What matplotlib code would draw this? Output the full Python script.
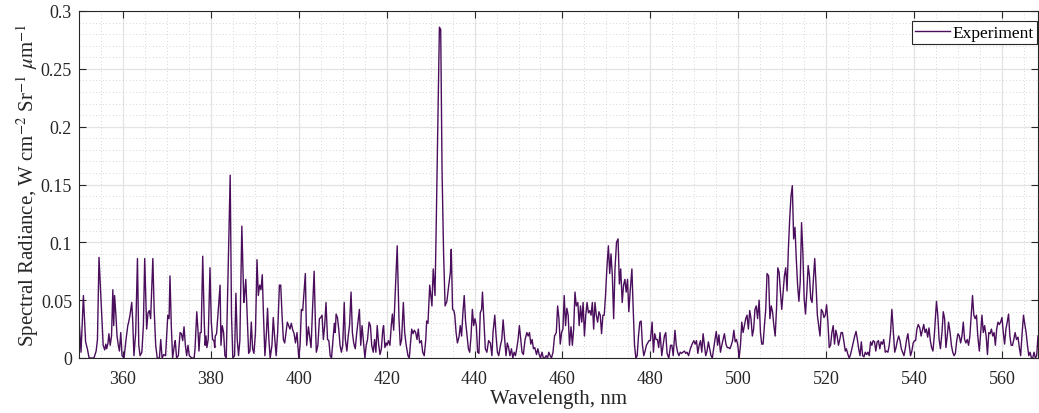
import numpy as np
import matplotlib
matplotlib.use("Agg")
import matplotlib.pyplot as plt
from matplotlib.ticker import MultipleLocator, FuncFormatter

plt.rcParams['font.family'] = ['Liberation Serif', 'DejaVu Serif']
plt.rcParams['mathtext.fontset'] = 'stix'

# Spectrum, split by wavelength range (nm, W cm-2 Sr-1 um-1)
wl_350 = [350.0, 350.46, 351.0, 351.5, 351.9, 352.3, 353.4, 353.9, 354.2, 354.55, 355.1, 355.5,
          355.85, 356.1, 356.3, 356.6, 356.8, 357.1, 357.4, 357.7, 357.9, 358.1, 358.4, 358.65,
          358.95, 359.2, 359.5, 359.8, 360.25, 360.7, 361.1, 361.3, 361.6, 362.0, 362.2, 362.5,
          362.9, 363.3, 363.6, 363.9, 364.3, 364.65, 364.95, 365.4, 365.7, 366.0, 366.3, 366.8,
          367.1, 367.45, 367.8, 368.3, 368.6, 368.9, 369.3, 369.7, 370.2, 370.5, 370.7, 371.0,
          371.3, 371.7, 371.9, 372.2, 372.6, 373.0, 373.3, 373.6, 373.9, 374.2, 374.5, 374.8,
          375.1, 375.65]
rad_350 = [0.034, 0.005, 0.054, 0.014, 0.008, 0.0, 0.0, 0.006, 0.016, 0.087, 0.042, 0.011,
           0.007, 0.012, 0.008, 0.013, 0.021, 0.011, 0.019, 0.059, 0.028, 0.054, 0.037, 0.019,
           0.011, 0.006, 0.022, 0.002, 0.0, 0.016, 0.028, 0.031, 0.037, 0.048, 0.034, 0.002,
           0.022, 0.086, 0.011, 0.002, 0.005, 0.028, 0.086, 0.025, 0.039, 0.041, 0.034, 0.086,
           0.042, 0.011, 0.0, 0.0, 0.016, 0.0, 0.003, 0.002, 0.037, 0.034, 0.071, 0.028,
           0.0, 0.011, 0.015, 0.0, 0.002, 0.022, 0.021, 0.015, 0.027, 0.011, 0.002, 0.011,
           0.002, 0.0]

wl_376 = [376.2, 376.4, 376.8, 377.1, 377.3, 377.55, 377.8, 378.15, 378.5, 378.7, 378.9, 379.1,
          379.4, 379.8, 380.1, 380.4, 380.7, 380.9, 381.0, 381.3, 382.1, 382.3, 382.6, 382.9,
          383.2, 383.5, 384.4, 384.7, 385.0, 385.4, 385.7, 386.0, 386.3, 386.6, 387.05, 387.5,
          387.6, 387.95, 388.3, 388.6, 388.9, 389.2, 389.5, 389.8, 390.15, 390.5, 390.8, 391.1,
          391.4, 391.7, 392.0, 392.3, 392.65, 392.9, 393.2, 393.5, 393.9, 394.2, 394.5, 394.85,
          395.2, 395.6, 395.9, 396.2, 396.5, 396.8, 397.1, 397.4, 397.7, 398.0, 398.3, 398.65,
          398.95, 399.25, 399.6, 400.0, 400.3, 400.6, 400.9, 401.5, 401.8, 402.2]
rad_376 = [0.0, 0.008, 0.040, 0.022, 0.006, 0.022, 0.022, 0.088, 0.031, 0.011, 0.019, 0.009,
           0.016, 0.078, 0.031, 0.016, 0.015, 0.009, 0.019, 0.021, 0.063, 0.011, 0.028, 0.022,
           0.002, 0.0, 0.158, 0.037, 0.0, 0.002, 0.056, 0.016, 0.002, 0.015, 0.114, 0.048,
           0.051, 0.068, 0.034, 0.004, 0.006, 0.031, 0.008, 0.004, 0.022, 0.085, 0.054, 0.063,
           0.059, 0.072, 0.034, 0.002, 0.022, 0.043, 0.016, 0.0, 0.011, 0.035, 0.019, 0.002,
           0.022, 0.063, 0.063, 0.037, 0.016, 0.013, 0.022, 0.031, 0.028, 0.025, 0.030, 0.024,
           0.021, 0.013, 0.022, 0.0, 0.011, 0.042, 0.041, 0.073, 0.011, 0.027]

wl_403 = [402.8, 403.1, 403.5, 403.8, 404.0, 404.35, 404.7, 405.0, 405.3, 405.6, 405.9, 406.2,
          406.55, 406.85, 407.15, 407.45, 407.8, 408.1, 408.3, 408.5, 408.8, 409.1, 409.4, 409.7,
          410.0, 410.35, 410.6, 410.95, 411.25, 411.55, 411.9, 412.2, 412.5, 412.85, 413.2, 413.8,
          414.1, 414.4, 414.75, 415.05, 415.35, 415.65, 416.0, 416.3, 416.6, 416.95, 417.25, 417.55,
          417.85, 418.2, 418.5, 418.8, 419.1, 419.3, 419.6, 419.9, 420.1, 420.4, 420.75, 421.05,
          421.3, 421.6, 422.4, 422.8, 423.1, 423.4, 423.8, 424.1, 424.45, 424.85, 425.15, 425.4,
          425.7, 426.0, 426.3, 426.6, 426.9, 427.2, 427.5, 427.9, 428.2, 428.55, 428.9, 429.1,
          429.4, 429.8]
rad_403 = [0.009, 0.039, 0.075, 0.028, 0.005, 0.011, 0.034, 0.035, 0.037, 0.016, 0.028, 0.048,
           0.016, 0.015, 0.002, 0.0, 0.016, 0.030, 0.022, 0.038, 0.035, 0.025, 0.011, 0.005,
           0.011, 0.048, 0.016, 0.006, 0.019, 0.028, 0.057, 0.022, 0.013, 0.008, 0.022, 0.042,
           0.011, 0.028, 0.013, 0.0, 0.011, 0.016, 0.031, 0.028, 0.011, 0.005, 0.016, 0.005,
           0.028, 0.011, 0.003, 0.008, 0.024, 0.028, 0.009, 0.013, 0.011, 0.015, 0.011, 0.028,
           0.038, 0.024, 0.097, 0.034, 0.011, 0.016, 0.048, 0.022, 0.011, 0.002, 0.0, 0.011,
           0.025, 0.021, 0.024, 0.022, 0.016, 0.025, 0.013, 0.015, 0.005, 0.002, 0.016, 0.032,
           0.030, 0.063]

wl_430 = [430.3, 430.6, 431.0, 431.3, 431.6, 432.0, 432.3, 432.6, 432.95, 433.3, 433.7, 434.1,
          434.5, 434.7, 435.0, 435.3, 435.5, 435.8, 436.1, 436.45, 436.75, 437.05, 437.35, 437.65,
          437.95, 438.3, 438.6, 438.9, 439.2, 439.5, 439.8, 440.1, 440.4, 440.7, 441.0, 441.3,
          441.6, 441.8, 442.1, 442.45, 442.8, 443.2, 443.6, 443.95, 444.2, 444.6, 444.9, 445.2,
          445.5, 445.9, 446.2, 446.5, 446.85, 447.15, 447.45, 447.75, 448.05, 448.4, 448.7, 449.0,
          449.3, 449.6, 449.9, 450.2, 450.5, 450.8, 451.1, 451.5, 451.9, 452.2, 452.5, 452.8,
          453.1, 453.4, 453.7, 454.1, 454.4, 454.7, 455.0, 455.35, 455.65, 455.95, 456.3, 456.6,
          456.9, 457.2, 457.5, 457.85, 458.2]
rad_430 = [0.045, 0.077, 0.054, 0.120, 0.192, 0.286, 0.284, 0.163, 0.091, 0.045, 0.049, 0.062,
           0.074, 0.094, 0.042, 0.041, 0.037, 0.022, 0.013, 0.018, 0.028, 0.019, 0.039, 0.054,
           0.032, 0.019, 0.008, 0.005, 0.019, 0.042, 0.028, 0.034, 0.028, 0.005, 0.004, 0.039,
           0.042, 0.057, 0.034, 0.008, 0.005, 0.015, 0.013, 0.002, 0.022, 0.037, 0.019, 0.005,
           0.002, 0.011, 0.016, 0.033, 0.016, 0.002, 0.013, 0.009, 0.002, 0.008, 0.0, 0.005,
           0.002, 0.008, 0.016, 0.028, 0.016, 0.005, 0.003, 0.016, 0.022, 0.019, 0.022, 0.012,
           0.016, 0.008, 0.009, 0.003, 0.008, 0.003, 0.0, 0.005, 0.0, 0.0, 0.002, 0.0,
           0.005, 0.002, 0.0, 0.005, 0.019]

wl_458 = [458.6, 458.9, 459.2, 459.5, 459.8, 460.1, 460.4, 460.7, 461.0, 461.3, 461.6, 461.95,
          462.25, 462.55, 462.85, 463.15, 463.5, 463.8, 464.1, 464.4, 464.7, 465.0, 465.3, 465.6,
          465.9, 466.2, 466.5, 466.8, 467.1, 467.4, 467.7, 468.0, 468.3, 468.6, 468.9, 469.2,
          469.5, 469.8, 470.1, 470.45, 470.75, 471.05, 471.35, 471.65, 471.95, 472.3, 472.65, 472.95,
          473.25, 473.6, 473.9, 474.2, 474.5, 474.8, 475.1, 475.4, 475.8, 476.1, 476.4, 476.7,
          477.0, 477.3, 477.6, 477.9, 478.2, 478.5, 478.8, 479.1, 479.4, 479.7, 480.0, 480.4,
          480.7, 481.0, 481.3, 481.6, 481.9, 482.2, 482.6, 482.9, 483.2, 483.5, 483.8, 484.2,
          484.6, 484.9, 485.2]
rad_458 = [0.022, 0.045, 0.034, 0.012, 0.022, 0.025, 0.054, 0.028, 0.043, 0.037, 0.011, 0.027,
           0.011, 0.025, 0.057, 0.045, 0.048, 0.028, 0.045, 0.031, 0.048, 0.019, 0.037, 0.048,
           0.039, 0.041, 0.037, 0.048, 0.025, 0.048, 0.037, 0.031, 0.040, 0.037, 0.021, 0.037,
           0.037, 0.054, 0.077, 0.097, 0.073, 0.090, 0.071, 0.034, 0.077, 0.100, 0.103, 0.064,
           0.077, 0.048, 0.063, 0.068, 0.057, 0.068, 0.040, 0.057, 0.077, 0.042, 0.011, 0.0,
           0.002, 0.019, 0.031, 0.032, 0.011, 0.002, 0.006, 0.011, 0.013, 0.015, 0.015, 0.031,
           0.005, 0.021, 0.016, 0.016, 0.009, 0.022, 0.002, 0.011, 0.019, 0.022, 0.004, 0.0,
           0.011, 0.011, 0.002]

wl_485 = [485.6, 485.9, 486.2, 486.5, 486.8, 487.1, 487.4, 487.75, 488.05, 488.35, 488.7, 489.1,
          489.5, 489.9, 490.2, 490.5, 490.8, 491.1, 491.4, 491.7, 492.0, 492.3, 492.6, 492.9,
          493.2, 493.5, 493.8, 494.1, 494.4, 494.7, 495.0, 495.3, 495.6, 495.95, 496.25, 496.55,
          496.85, 497.2, 497.5, 497.8, 498.1, 498.4, 498.7, 499.0, 499.3, 499.6, 499.9, 500.2,
          500.5, 500.8, 501.1, 501.4, 501.7, 502.0, 502.3, 502.6, 502.9, 503.2, 503.5, 503.8,
          504.1, 504.4, 504.75, 505.05, 505.35, 505.65, 505.95, 506.25, 506.55, 506.9, 507.2, 507.5,
          507.8, 508.1, 508.4, 508.7, 509.0, 509.3, 509.6, 509.9, 510.2, 510.5, 510.8, 511.1,
          511.4, 511.7, 512.0, 512.3]
rad_485 = [0.024, 0.011, 0.005, 0.002, 0.005, 0.004, 0.005, 0.006, 0.004, 0.005, 0.002, 0.008,
           0.012, 0.015, 0.012, 0.015, 0.004, 0.011, 0.015, 0.005, 0.021, 0.011, 0.002, 0.006,
           0.014, 0.008, 0.002, 0.0, 0.008, 0.016, 0.023, 0.011, 0.020, 0.005, 0.011, 0.016,
           0.021, 0.012, 0.009, 0.009, 0.008, 0.011, 0.015, 0.024, 0.014, 0.016, 0.011, 0.0,
           0.011, 0.031, 0.022, 0.028, 0.034, 0.037, 0.025, 0.041, 0.034, 0.019, 0.025, 0.042,
           0.045, 0.034, 0.050, 0.022, 0.012, 0.012, 0.028, 0.042, 0.073, 0.071, 0.034, 0.045,
           0.040, 0.028, 0.019, 0.042, 0.078, 0.074, 0.057, 0.042, 0.057, 0.071, 0.078, 0.058,
           0.094, 0.120, 0.140, 0.149]

wl_512 = [512.6, 512.9, 513.2, 513.5, 513.8, 514.1, 514.4, 514.7, 515.0, 515.3, 515.6, 515.9,
          516.2, 516.5, 516.8, 517.1, 517.4, 517.7, 518.0, 518.3, 518.6, 518.9, 519.2, 519.5,
          519.8, 520.1, 520.4, 520.7, 521.0, 521.3, 521.6, 521.9, 522.2, 522.5, 522.8, 523.1,
          523.4, 523.7, 524.0, 524.35, 524.6, 524.95, 525.25, 525.55, 525.85, 526.2, 526.5, 526.8,
          527.1, 527.4, 527.7, 528.0, 528.3, 528.6, 528.9, 529.2, 529.5, 529.8, 530.1, 530.4,
          530.7, 531.0, 531.3, 531.6, 531.9, 532.2, 532.5, 532.8, 533.1, 533.45, 533.75, 534.05,
          534.35, 534.65, 534.95, 535.3, 535.6, 535.9, 536.2, 536.5, 536.8, 537.1, 537.4, 537.7,
          538.0, 538.3, 538.6, 538.9, 539.2, 539.5, 539.8, 540.1]
rad_512 = [0.103, 0.113, 0.086, 0.063, 0.049, 0.066, 0.117, 0.091, 0.051, 0.038, 0.057, 0.080,
           0.071, 0.051, 0.048, 0.068, 0.086, 0.063, 0.037, 0.028, 0.019, 0.042, 0.040, 0.035,
           0.037, 0.046, 0.031, 0.009, 0.011, 0.022, 0.028, 0.012, 0.024, 0.019, 0.011, 0.016,
           0.022, 0.022, 0.015, 0.006, 0.008, 0.003, 0.0, 0.003, 0.008, 0.014, 0.019, 0.023,
           0.016, 0.008, 0.002, 0.014, 0.002, 0.001, 0.005, 0.003, 0.005, 0.002, 0.014, 0.011,
           0.015, 0.014, 0.006, 0.014, 0.015, 0.008, 0.014, 0.012, 0.016, 0.005, 0.006, 0.005,
           0.011, 0.022, 0.042, 0.022, 0.005, 0.009, 0.015, 0.019, 0.015, 0.008, 0.005, 0.002,
           0.008, 0.016, 0.021, 0.011, 0.002, 0.006, 0.013, 0.015]

wl_540 = [540.35, 540.65, 540.95, 541.3, 541.6, 541.9, 542.2, 542.5, 542.8, 543.1, 543.4, 543.7,
          544.0, 544.3, 544.6, 544.9, 545.1, 545.4, 545.7, 546.0, 546.35, 546.65, 546.95, 547.25,
          547.55, 547.85, 548.2, 548.5, 548.8, 549.1, 549.4, 549.7, 550.0, 550.3, 550.6, 550.9,
          551.2, 551.5, 551.8, 552.1, 552.4, 552.7, 553.0, 553.3, 553.6, 553.9, 554.2, 554.5,
          554.85, 555.15, 555.45, 555.75, 556.05, 556.4, 556.7, 557.0, 557.3, 557.6, 557.9, 558.2,
          558.5, 558.8, 559.1, 559.4, 559.7, 560.0, 560.3, 560.6, 560.9, 561.2, 561.5, 561.8,
          562.1, 562.4, 562.7, 563.0, 563.3, 563.65, 563.95, 564.25, 564.6, 564.9, 565.2, 565.5,
          565.8, 566.1, 566.4, 566.7, 567.0, 567.3, 567.6, 567.9, 568.2]
rad_540 = [0.015, 0.025, 0.029, 0.026, 0.019, 0.024, 0.029, 0.022, 0.025, 0.018, 0.026, 0.015,
           0.009, 0.006, 0.019, 0.037, 0.049, 0.037, 0.016, 0.008, 0.022, 0.040, 0.034, 0.009,
           0.019, 0.031, 0.022, 0.011, 0.005, 0.002, 0.004, 0.015, 0.021, 0.019, 0.013, 0.019,
           0.031, 0.016, 0.013, 0.016, 0.011, 0.019, 0.037, 0.054, 0.037, 0.034, 0.037, 0.019,
           0.006, 0.022, 0.037, 0.022, 0.028, 0.019, 0.003, 0.022, 0.021, 0.025, 0.019, 0.022,
           0.011, 0.025, 0.031, 0.029, 0.031, 0.035, 0.022, 0.012, 0.025, 0.031, 0.038, 0.019,
           0.011, 0.011, 0.016, 0.022, 0.016, 0.018, 0.009, 0.002, 0.022, 0.037, 0.029, 0.022,
           0.011, 0.002, 0.005, 0.0, 0.0, 0.005, 0.0, 0.002, 0.019]

wavelength = np.concatenate([wl_350, wl_376, wl_403, wl_430, wl_458, wl_485, wl_512, wl_540])
radiance = np.concatenate([rad_350, rad_376, rad_403, rad_430, rad_458, rad_485, rad_512, rad_540])

fig = plt.figure(figsize=(10.39, 4.14), dpi=100)
ax = fig.add_axes([79 / 1039, 1 - 359 / 414, 959 / 1039, 347 / 414])

ax.plot(wavelength, radiance, color='#4a0e5c', linewidth=1.0, label='Experiment')

ax.set_xlim(350, 568.2)
ax.set_ylim(0, 0.3)
ax.xaxis.set_major_locator(MultipleLocator(20))
ax.xaxis.set_minor_locator(MultipleLocator(5))
ax.yaxis.set_major_locator(MultipleLocator(0.05))
ax.yaxis.set_minor_locator(MultipleLocator(0.01))
ax.yaxis.set_major_formatter(FuncFormatter(lambda v, p: f"{v:g}"))

ax.grid(which='major', color='#e3e3e3', linewidth=0.9, linestyle='-')
ax.grid(which='minor', color='#c8c8c8', linewidth=0.6, linestyle=(0, (1, 3)))
ax.set_axisbelow(True)

ax.tick_params(which='both', direction='in', top=True, right=True, colors='#262626',
               labelsize=13)
ax.tick_params(which='major', length=5, width=0.8)
ax.tick_params(which='minor', length=0)
ax.tick_params(axis='x', pad=9)
ax.tick_params(axis='y', pad=5)
for s in ax.spines.values():
    s.set_color('#262626')
    s.set_linewidth(0.8)

ax.set_xlabel('Wavelength, nm', fontsize=15, color='#262626', labelpad=1)
ax.set_ylabel(r'Spectral Radiance, W cm$^{-2}$ Sr$^{-1}$ $\mu$m$^{-1}$', fontsize=15,
              color='#262626', labelpad=0)

leg = ax.legend(loc='upper right', bbox_to_anchor=(0.999, 0.971), fontsize=12.5,
                handlelength=2.0, borderpad=0.2, handletextpad=0.15, borderaxespad=0,
                fancybox=False, framealpha=1)
leg.get_frame().set_edgecolor('#262626')
leg.get_frame().set_linewidth(0.8)

fig.savefig('out.png', dpi=100)
